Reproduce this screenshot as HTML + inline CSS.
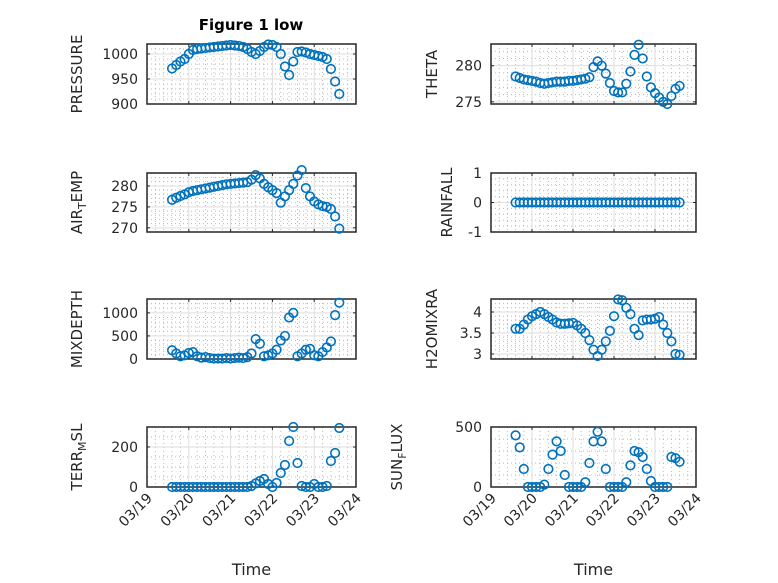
<!DOCTYPE html>
<html><head><meta charset="utf-8"><style>
html,body{margin:0;padding:0;background:#fff}
svg{display:block;font-family:"DejaVu Sans","Liberation Sans",sans-serif}
</style></head><body>
<svg id="fig" width="778" height="583" viewBox="0 0 778 583" xmlns="http://www.w3.org/2000/svg">
<rect width="778" height="583" fill="#fff"/>
<text x="251" y="30" text-anchor="middle" font-size="15" font-weight="bold" fill="#000">Figure 1 low</text>
</svg>
<script>
const times = [19.6,19.7,19.8,19.9,20.0,20.1,20.2,20.3,20.4,20.5,20.6,20.7,20.8,20.9,21.0,21.1,21.2,21.3,21.4,21.5,21.6,21.7,21.8,21.9,22.0,22.1,22.2,22.3,22.4,22.5,22.6,22.7,22.8,22.9,23.0,23.1,23.2,23.3,23.4,23.5,23.6];
const pressure = [971,978,985,990,1000,1008,1010,1011,1012,1013,1014,1015,1016,1017,1018,1017,1016,1014,1010,1004,1000,1006,1014,1019,1018,1014,1000,975,958,985,1004,1005,1003,1000,998,996,994,990,970,945,920];
const theta = [278.5,278.3,278.1,278.0,277.9,277.8,277.6,277.5,277.6,277.7,277.8,277.8,277.8,277.9,277.9,278.0,278.1,278.2,278.4,279.8,280.6,280.0,278.9,277.6,276.5,276.3,276.3,277.5,279.2,281.5,282.9,281.0,278.5,277.0,276.2,275.6,275.0,274.7,275.8,276.8,277.2];
const airTemp = [276.7,277.2,277.6,278.0,278.5,278.8,279.0,279.2,279.4,279.6,279.8,280.0,280.2,280.4,280.5,280.6,280.7,280.8,280.9,281.5,282.6,281.8,280.5,279.7,279.0,278.3,276.0,277.5,279.0,280.5,282.5,283.8,279.5,277.5,276.3,275.6,275.2,275.0,274.5,272.7,269.8];
const rainfall = [0,0,0,0,0,0,0,0,0,0,0,0,0,0,0,0,0,0,0,0,0,0,0,0,0,0,0,0,0,0,0,0,0,0,0,0,0,0,0,0,0];
const mixDepth = [190,120,60,80,130,150,60,30,40,20,10,10,10,20,10,20,30,20,40,120,430,330,60,80,120,200,400,500,900,1000,60,120,200,220,80,60,150,250,380,950,1220];
const h2oMixRa = [3.6,3.6,3.7,3.82,3.9,3.95,4.0,3.95,3.88,3.82,3.75,3.72,3.72,3.73,3.74,3.68,3.6,3.5,3.33,3.1,2.95,3.1,3.3,3.55,3.9,4.3,4.28,4.1,3.95,3.6,3.45,3.8,3.82,3.82,3.84,3.88,3.7,3.5,3.3,3.0,2.98];
const terrMsl = [0,0,0,0,0,0,0,0,0,0,0,0,0,0,0,0,0,0,0,5,18,30,40,15,0,20,70,110,230,300,120,5,0,0,15,0,0,5,130,170,295];
const sunFlux = [430,330,150,0,0,0,0,20,150,270,380,300,100,0,0,0,0,40,200,380,460,380,150,0,0,0,0,40,180,300,290,250,150,50,0,0,0,0,250,240,210];
const xTickVals = [19,20,21,22,23,24];
const xTickLabels = ["03/19","03/20","03/21","03/22","03/23","03/24"];
const pressureTicks = [900,950,1000];
const thetaTicks = [275,280];
const airTempTicks = [270,275,280];
const rainTicks = [-1,0,1];
const mixTicks = [0,500,1000];
const h2oTicks = [3,3.5,4];
const terrTicks = [0,200];
const sunTicks = [0,500];

const NS = "http://www.w3.org/2000/svg";
const svg = document.getElementById('fig');
function el(tag, attrs, parent){
  const e = document.createElementNS(NS, tag);
  for (const k in attrs) e.setAttribute(k, attrs[k]);
  (parent||svg).appendChild(e);
  return e;
}
const L = [147,356], R = [491,696];
const rows = [[44,104],[173,232],[299,359],[427,487]];
const panels = [
  {name:'pressure', col:L, row:rows[0], ylim:[900,1020], ticks:pressureTicks, minor:10, data:pressure, label:['PRESSURE'], lx:82, xl:false},
  {name:'theta', col:R, row:rows[0], ylim:[274.7,283], ticks:thetaTicks, minor:1, data:theta, label:['THETA'], lx:437, xl:false},
  {name:'air-temp', col:L, row:rows[1], ylim:[269,283.1], ticks:airTempTicks, minor:1, data:airTemp, label:['AIR','T','EMP'], lx:82, xl:false},
  {name:'rainfall', col:R, row:rows[1], ylim:[-1,1], ticks:rainTicks, minor:0.2, data:rainfall, label:['RAINFALL'], lx:452, xl:false},
  {name:'mixdepth', col:L, row:rows[2], ylim:[0,1300], ticks:mixTicks, minor:100, data:mixDepth, label:['MIXDEPTH'], lx:82, xl:false},
  {name:'h2omixra', col:R, row:rows[2], ylim:[2.88,4.31], ticks:h2oTicks, minor:0.1, data:h2oMixRa, label:['H2OMIXRA'], lx:437, xl:false},
  {name:'terr-msl', col:L, row:rows[3], ylim:[0,300], ticks:terrTicks, minor:50, data:terrMsl, label:['TERR','M','SL'], lx:82, xl:true},
  {name:'sun-flux', col:R, row:rows[3], ylim:[0,500], ticks:sunTicks, minor:100, data:sunFlux, label:['SUN','F','LUX'], lx:402, xl:true}
];
panels.forEach(p=>{
  const [x0,x1]=p.col, [y0,y1]=p.row;
  const g = el('g',{});
  
  
  const xs = d => x0 + (d-19)/5*(x1-x0);
  const ys = v => y1 - (v-p.ylim[0])/(p.ylim[1]-p.ylim[0])*(y1-y0);
  for (let d=19.2; d<24-1e-6; d+=0.2){
    if (Math.abs(d-Math.round(d))<1e-6) continue;
    el('line',{x1:xs(d),x2:xs(d),y1:y0,y2:y1,stroke:'#b8b8b8','stroke-width':1,'stroke-dasharray':'1 3'},g);
  }
  const start = Math.ceil(p.ylim[0]/p.minor)*p.minor;
  for (let v=start; v<=p.ylim[1]+1e-9; v+=p.minor){
    if (p.ticks.some(t=>Math.abs(t-v)<1e-6)) continue;
    el('line',{x1:x0,x2:x1,y1:ys(v),y2:ys(v),stroke:'#b8b8b8','stroke-width':1,'stroke-dasharray':'1 3'},g);
  }
  xTickVals.forEach(d=>el('line',{x1:xs(d),x2:xs(d),y1:y0,y2:y1,stroke:'#dedede','stroke-width':1},g));
  p.ticks.forEach(v=>el('line',{x1:x0,x2:x1,y1:ys(v),y2:ys(v),stroke:'#dedede','stroke-width':1},g));
  xTickVals.forEach(d=>{
    el('line',{x1:xs(d),x2:xs(d),y1:y1,y2:y1-3,stroke:'#262626','stroke-width':1},g);
    el('line',{x1:xs(d),x2:xs(d),y1:y0,y2:y0+3,stroke:'#262626','stroke-width':1},g);
  });
  p.ticks.forEach(v=>{
    el('line',{x1:x0,x2:x0+3,y1:ys(v),y2:ys(v),stroke:'#262626','stroke-width':1},g);
    el('line',{x1:x1,x2:x1-3,y1:ys(v),y2:ys(v),stroke:'#262626','stroke-width':1},g);
    const t = el('text',{x:x0-9,y:ys(v)+5,'text-anchor':'end','font-size':14,fill:'#262626'},g);
    t.textContent = String(v);
    
    
  });
  el('rect',{x:x0,y:y0,width:x1-x0,height:y1-y0,fill:'none',stroke:'#262626','stroke-width':1.5},g);
  p.data.forEach((v,i)=>{
    const c = el('circle',{cx:xs(times[i]),cy:ys(v),r:4.3,fill:'none',stroke:'#0072BD','stroke-width':1.6},g);
    
    
  });
  const cy = (y0+y1)/2;
  const yl = el('text',{x:p.lx,y:cy,'text-anchor':'middle','font-size':15,fill:'#262626',transform:`rotate(-90 ${p.lx} ${cy})`},g);
  
  
  if (p.label.length===1) yl.textContent = p.label[0];
  else {
    const a = el('tspan',{},yl); a.textContent = p.label[0];
    const b = el('tspan',{dy:4,'font-size':11},yl); b.textContent = p.label[1];
    const c2 = el('tspan',{dy:-4},yl); c2.textContent = p.label[2];
  }
  if (p.xl){
    xTickVals.forEach((d,i)=>{
      const tx = xs(d)+6, ty = y1+12;
      const t = el('text',{x:tx,y:ty,'text-anchor':'end','font-size':14,fill:'#262626',transform:`rotate(-45 ${tx} ${ty})`},g);
      t.textContent = xTickLabels[i];
      
      
    });
    const xt = el('text',{x:(x0+x1)/2,y:575,'text-anchor':'middle','font-size':16,fill:'#262626'},g);
    xt.textContent = 'Time';
    
    
  }
});
</script>
</body></html>
